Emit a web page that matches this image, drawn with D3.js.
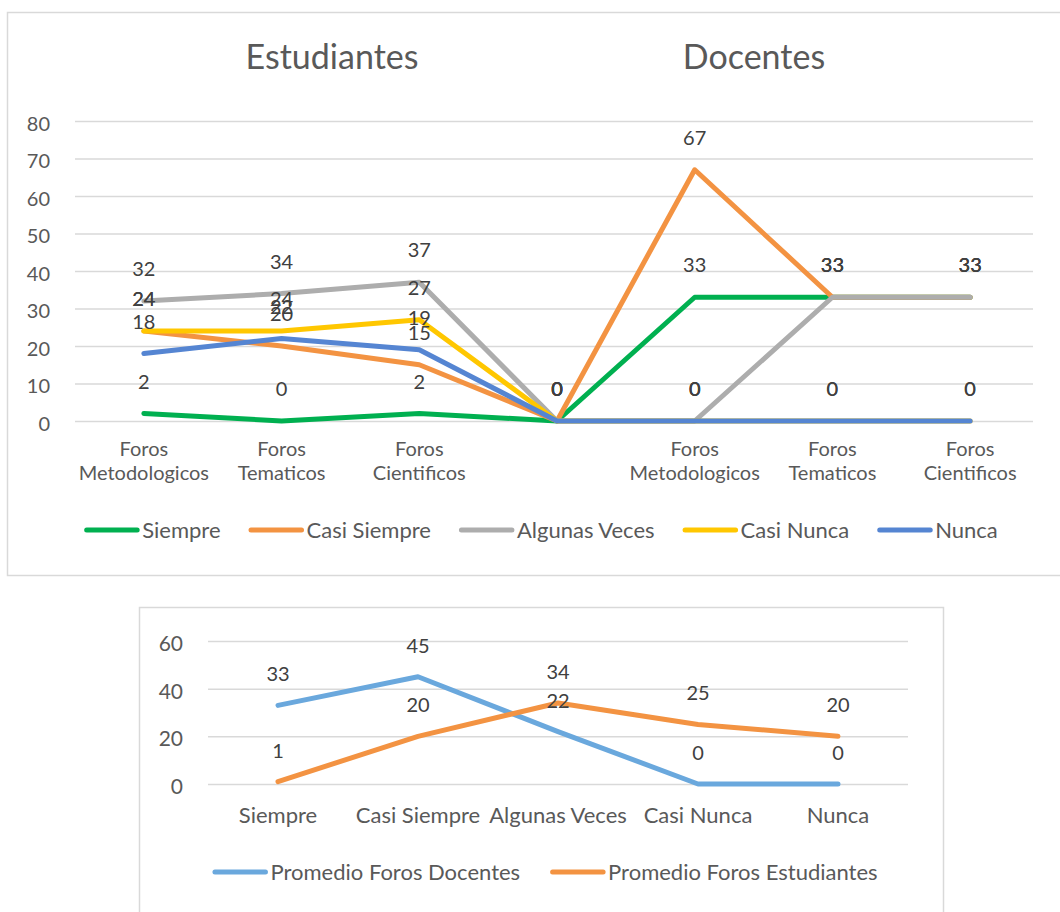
<!DOCTYPE html>
<html>
<head>
<meta charset="utf-8">
<script src="https://cdnjs.cloudflare.com/ajax/libs/d3/7.8.5/d3.min.js"></script>
<style>
  body { margin: 0; background: #fff; }
  text { font-family: Lato, "Open Sans", sans-serif; }
</style>
</head>
<body>
<div id="chart"></div>
<script>
// ---- data: top chart (Estudiantes | blank | Docentes) ----
var topCats = ["Foros Metodologicos", "Foros Tematicos", "Foros Cientificos", "",
               "Foros Metodologicos", "Foros Tematicos", "Foros Cientificos"];
var siempre      = [2, 0, 2, 0, 33, 33, 33];
var casiSiempre  = [24, 20, 15, 0, 67, 33, 33];
var algunasVeces = [32, 34, 37, 0, 0, 33, 33];
var casiNunca    = [24, 24, 27, 0, 0, 0, 0];
var nunca        = [18, 22, 19, 0, 0, 0, 0];
var topTicks = [0, 10, 20, 30, 40, 50, 60, 70, 80];
var topTitles = ["Estudiantes", "Docentes"];

// ---- data: bottom chart (averages) ----
var bottomCats = ["Siempre", "Casi Siempre", "Algunas Veces", "Casi Nunca", "Nunca"];
var promDocentes    = [33, 45, 22, 0, 0];
var promEstudiantes = [1, 20, 34, 25, 20];
var bottomTicks = [0, 20, 40, 60];

var textColor = "#595959",
    labelColor = "#404040",
    gridColor = "#D9D9D9";

var svg = d3.select("#chart").append("svg")
    .attr("width", 1060)
    .attr("height", 912);

// chart frames
svg.append("rect")
    .attr("x", 7.5).attr("y", 12.5)
    .attr("width", 1070).attr("height", 563)
    .attr("fill", "none").attr("stroke", gridColor).attr("stroke-width", 1.5);

svg.append("rect")
    .attr("x", 139.5).attr("y", 607.5)
    .attr("width", 804).attr("height", 330)
    .attr("fill", "none").attr("stroke", gridColor).attr("stroke-width", 1.5);

function drawLineChart(cfg) {
  var g = svg.append("g");

  var x = d3.scaleBand()
      .domain(d3.range(cfg.cats.length))
      .range([cfg.left, cfg.right]);
  var y = d3.scaleLinear()
      .domain([0, d3.max(cfg.ticks)])
      .range([cfg.bottom, cfg.top]);
  var cx = function(i) { return x(i) + x.bandwidth() / 2; };

  // gridlines + y tick labels
  var yAxis = g.append("g")
      .attr("transform", "translate(" + cfg.left + ",0)")
      .call(d3.axisLeft(y)
        .tickValues(cfg.ticks)
        .tickSize(-(cfg.gridRight - cfg.left))
        .tickPadding(25));
  yAxis.select(".domain").remove();
  yAxis.selectAll("line")
      .attr("stroke", gridColor)
      .attr("stroke-width", 1.5);
  yAxis.selectAll("text")
      .attr("fill", textColor)
      .attr("dy", "0.45em")
      .style("font-size", cfg.tickFont + "px");

  // category labels (wrapped on spaces when asked)
  cfg.cats.forEach(function(c, i) {
    if (!c) return;
    var lines = cfg.wrap ? c.split(" ") : [c];
    var t = g.append("text")
        .attr("text-anchor", "middle")
        .attr("fill", textColor)
        .style("font-size", cfg.catFont + "px");
    lines.forEach(function(l, k) {
      t.append("tspan")
        .attr("x", cx(i))
        .attr("y", cfg.catY + k * 24)
        .text(l);
    });
  });

  var line = d3.line()
      .x(function(d, i) { return cx(i); })
      .y(function(d) { return y(d); });

  cfg.series.forEach(function(s) {
    g.append("path")
        .datum(s.values)
        .attr("d", line)
        .attr("fill", "none")
        .attr("stroke", s.color)
        .attr("stroke-width", 5)
        .attr("stroke-linejoin", "round")
        .attr("stroke-linecap", "round");
  });

  // data labels on top of all lines
  cfg.series.forEach(function(s) {
    g.selectAll(null)
        .data(s.values)
      .enter().append("text")
        .attr("x", function(d, i) { return cx(i); })
        .attr("y", function(d) { return y(d) - cfg.labelOffset; })
        .attr("text-anchor", "middle")
        .attr("dominant-baseline", "central")
        .attr("fill", labelColor)
        .style("font-size", "20px")
        .text(function(d) { return d; });
  });

  // legend, centred
  var leg = g.append("g");
  var pos = 0;
  cfg.series.forEach(function(s) {
    var item = leg.append("g").attr("transform", "translate(" + pos + ",0)");
    item.append("line")
        .attr("x1", 2.5).attr("x2", 53)
        .attr("y1", 0).attr("y2", 0)
        .attr("stroke", s.color)
        .attr("stroke-width", 5)
        .attr("stroke-linecap", "round");
    var t = item.append("text")
        .attr("x", 58)
        .attr("y", 8)
        .attr("fill", textColor)
        .style("font-size", "22px")
        .text(s.name);
    pos += 58 + t.node().getComputedTextLength() + cfg.legendGap;
  });
  pos -= cfg.legendGap;
  leg.attr("transform", "translate(" + (cfg.legendCenter - pos / 2) + "," + cfg.legendY + ")");

  return { x: cx, y: y };
}

drawLineChart({
  cats: topCats,
  ticks: topTicks,
  left: 75, right: 1039, gridRight: 1033, top: 121, bottom: 421,
  tickFont: 20, catFont: 20, catY: 456, wrap: true,
  labelOffset: 33,
  legendY: 530, legendCenter: 541, legendGap: 28,
  series: [
    { name: "Siempre",       values: siempre,      color: "#00B050" },
    { name: "Casi Siempre",  values: casiSiempre,  color: "#F39342" },
    { name: "Algunas Veces", values: algunasVeces, color: "#ADADAD" },
    { name: "Casi Nunca",    values: casiNunca,    color: "#FFC700" },
    { name: "Nunca",         values: nunca,        color: "#5585D2" }
  ]
});

// panel titles
svg.selectAll(".panel-title")
    .data(topTitles)
  .enter().append("text")
    .attr("class", "panel-title")
    .attr("x", function(d, i) { return i === 0 ? 332 : 754; })
    .attr("y", 69)
    .attr("text-anchor", "middle")
    .attr("fill", textColor)
    .style("font-size", "34px")
    .text(function(d) { return d; });

drawLineChart({
  cats: bottomCats,
  ticks: bottomTicks,
  left: 208, right: 908, gridRight: 908, top: 641, bottom: 784,
  tickFont: 21, catFont: 22, catY: 823, wrap: false,
  labelOffset: 32,
  legendY: 872, legendCenter: 545, legendGap: 30,
  series: [
    { name: "Promedio Foros Docentes",    values: promDocentes,    color: "#6AA8DD" },
    { name: "Promedio Foros Estudiantes", values: promEstudiantes, color: "#F39342" }
  ]
});
</script>
</body>
</html>
